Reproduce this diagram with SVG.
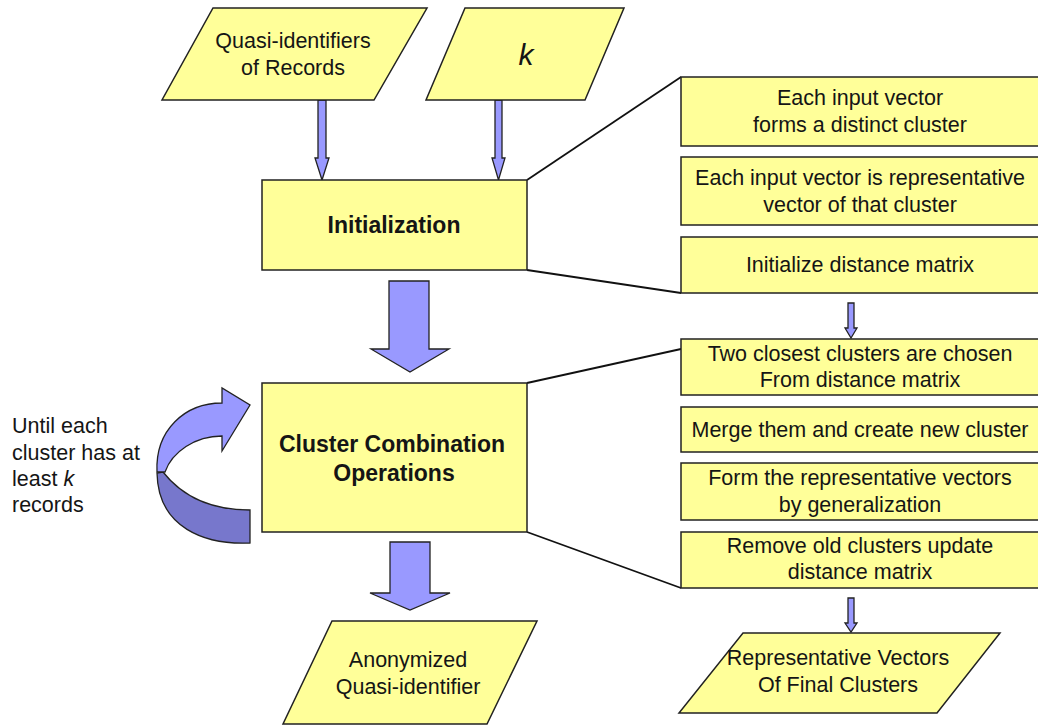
<svg xmlns="http://www.w3.org/2000/svg" width="1038" height="726" viewBox="0 0 1038 726">
<style>
.box{fill:#ffff99;stroke:#222;stroke-width:1.5}
.arr{fill:#9999ff;stroke:#222;stroke-width:1.3;stroke-linejoin:miter}
.dark{fill:#7777cc;stroke:#222;stroke-width:1.3}
.ln{fill:none;stroke:#111;stroke-width:1.8}
text{font-family:"Liberation Sans",Arial,sans-serif;fill:#151515;text-anchor:middle}
.t{font-size:21.5px}
.b{font-size:23px;font-weight:bold}
.l{font-size:21.5px;text-anchor:start}
</style>
<rect width="1038" height="726" fill="#ffffff"/>
<g id="connectors">
<line class="ln" x1="527" y1="180" x2="681" y2="77"/>
<line class="ln" x1="527" y1="270" x2="681" y2="293"/>
<line class="ln" x1="527" y1="383" x2="681" y2="349"/>
<line class="ln" x1="527" y1="532" x2="681" y2="588"/>
<path class="arr" d="M318,100 H326 V158 H329 L322,180 L315,158 H318 Z"/>
<path class="arr" d="M495,100 H502 V158 H505 L498.5,180 L492,158 H495 Z"/>
<path class="arr" d="M389,281 H429 V349 H449 L410,372 L371,349 H389 Z"/>
<path class="arr" d="M390,542 H430 V593 H450 L410,610 L370,593 H390 Z"/>
<path class="arr" d="M848,303 H854 V328 H857 L851,338 L845,328 H848 Z"/>
<path class="arr" d="M848,598 H854 V623 H857 L851,632 L845,623 H848 Z"/>
<g id="loop-arrow">
<path class="dark" d="M163,472 C185,500 215,510 250,510 L250,543 C205,545 158,528 157,473 Z"/>
<path class="arr" d="M157,472 C155,430 185,403 222,403 L222,388 L250,405 L222,451 L222,436 C195,436 172,452 165,472 Z"/>
</g>
</g>
<g id="quasi-identifiers">
<polygon class="box" points="213,8 427,8 374,100 162,100"/>
<text class="t" x="293" y="48">Quasi-identifiers</text>
<text class="t" x="293" y="75">of Records</text>
</g>
<g id="k-input">
<polygon class="box" points="465,8 624,8 585,100 426,100"/>
<text x="526" y="65" style="font-size:30px;font-style:italic">k</text>
</g>
<g id="initialization">
<rect class="box" x="262" y="180" width="265" height="90"/>
<text class="b" x="394" y="233">Initialization</text>
</g>
<g id="cluster-combination">
<rect class="box" x="262" y="383" width="265" height="149"/>
<text class="b" x="392" y="452">Cluster Combination</text>
<text class="b" x="394" y="481">Operations</text>
</g>
<g id="loop-label">
<text class="l" x="12" y="433">Until each</text>
<text class="l" x="12" y="460">cluster has at</text>
<text class="l" x="12" y="486">least <tspan font-style="italic">k</tspan></text>
<text class="l" x="12" y="512">records</text>
</g>
<g id="anonymized">
<polygon class="box" points="332,621 537,621 487,724 283,724"/>
<text class="t" x="408" y="667">Anonymized</text>
<text class="t" x="408" y="694">Quasi-identifier</text>
</g>
<g id="step-distinct-cluster">
<rect class="box" x="681" y="77" width="362" height="69"/>
<text class="t" x="860" y="105">Each input vector</text>
<text class="t" x="860" y="132">forms a distinct cluster</text>
</g>
<g id="step-representative">
<rect class="box" x="681" y="157" width="362" height="68"/>
<text class="t" x="860" y="185">Each input vector is representative</text>
<text class="t" x="860" y="212">vector of that cluster</text>
</g>
<g id="step-init-matrix">
<rect class="box" x="681" y="237" width="362" height="56"/>
<text class="t" x="860" y="272">Initialize distance matrix</text>
</g>
<g id="step-closest">
<rect class="box" x="681" y="339" width="362" height="56"/>
<text class="t" x="860" y="361">Two closest clusters are chosen</text>
<text class="t" x="860" y="387">From distance matrix</text>
</g>
<g id="step-merge">
<rect class="box" x="681" y="407" width="362" height="45"/>
<text class="t" x="860" y="437">Merge them and create new cluster</text>
</g>
<g id="step-form">
<rect class="box" x="681" y="463" width="362" height="57"/>
<text class="t" x="860" y="485">Form the representative vectors</text>
<text class="t" x="860" y="512">by generalization</text>
</g>
<g id="step-remove">
<rect class="box" x="681" y="532" width="362" height="56"/>
<text class="t" x="860" y="553">Remove old clusters update</text>
<text class="t" x="860" y="579">distance matrix</text>
</g>
<g id="final-clusters">
<polygon class="box" points="743,633 1000,633 937,713 679,713"/>
<text class="t" x="838" y="665">Representative Vectors</text>
<text class="t" x="838" y="692">Of Final Clusters</text>
</g>
</svg>
